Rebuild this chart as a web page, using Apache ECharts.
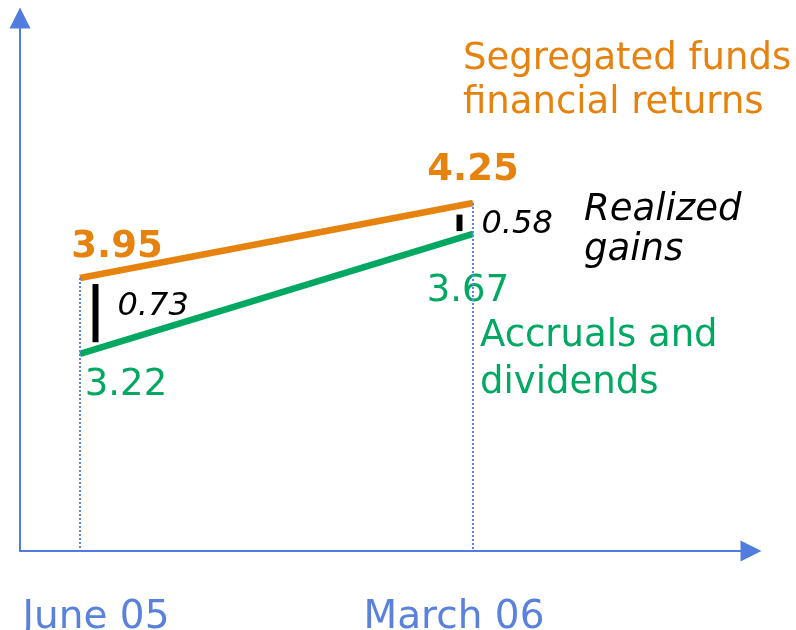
<!DOCTYPE html>
<html>
<head>
<meta charset="utf-8">
<script src="https://cdn.jsdelivr.net/npm/echarts@6/dist/echarts.min.js"></script>
<style>
  html, body { margin: 0; padding: 0; background: #fff; }
  #chart { width: 796px; height: 630px; }
</style>
</head>
<body>
<div id="chart"></div>
<script>
// data
const periods = ['June 05', 'March 06'];
const periodPos = [0, 1];
const segFundReturns = [3.95, 4.25];   // orange line
const accrualsDivs = [3.22, 3.67];     // green line
const realizedGains = [0.73, 0.58];    // gap between the two

const ORANGE = '#E6830F';
const GREEN = '#00A862';
const BLUE = '#4F7CDE';
const FONT = '"DejaVu Sans", Verdana, sans-serif';

// the slide is a sketch, so each line gets its own (hidden) scale
const ORANGE_MIN = 2.858, ORANGE_MAX = 4.99;
const GREEN_MIN = 2.481, GREEN_MAX = 4.48;

// label placement per point (style only)
const orangeLabelOffset = [[37, -5], [0, -7]];
const greenLabelOffset = [[46, 6], [-5, 32]];
const xLabelPad = [[0, 0, 0, 32], [0, 38, 0, 0]];
const gapBarDx = [15.5, -13.5];
const gapLabelDy = [-6, 2];

const chart = echarts.init(document.getElementById('chart'));

const option = {
  animation: false,
  backgroundColor: '#fff',
  grid: { left: 20, right: 45, top: 18, bottom: 79, containLabel: false, outerBoundsMode: 'none' },
  xAxis: {
    type: 'value',
    min: -0.1527,
    max: 1.7074,
    splitLine: { show: false },
    axisTick: { show: false },
    axisLine: {
      onZero: false,
      symbol: ['none', 'triangle'],
      symbolSize: [21, 21],
      lineStyle: { color: BLUE, width: 2 }
    },
    axisLabel: {
      customValues: periodPos,
      margin: 47,
      formatter: function (v) {
        const i = periodPos.indexOf(v);
        return i < 0 ? '' : '{p' + i + '|' + periods[i] + '}';
      },
      rich: {
        p0: { fontFamily: FONT, fontSize: 39, lineHeight: 40, color: '#5A82DC', padding: xLabelPad[0] },
        p1: { fontFamily: FONT, fontSize: 39, lineHeight: 40, color: '#5A82DC', padding: xLabelPad[1] }
      }
    }
  },
  yAxis: [
    {
      type: 'value',
      min: ORANGE_MIN,
      max: ORANGE_MAX,
      splitLine: { show: false },
      axisTick: { show: false },
      axisLabel: { show: false },
      axisLine: {
        show: true,
        onZero: false,
        symbol: ['none', 'triangle'],
        symbolSize: [21, 21],
        lineStyle: { color: BLUE, width: 2 }
      }
    },
    {
      type: 'value',
      show: false,
      min: GREEN_MIN,
      max: GREEN_MAX
    }
  ],
  series: [
    {
      name: 'Segregated funds financial returns',
      type: 'line',
      yAxisIndex: 0,
      symbol: 'circle',
      symbolSize: 1,
      itemStyle: { color: ORANGE },
      lineStyle: { color: ORANGE, width: 6.5 },
      z: 3,
      data: periodPos.map((x, i) => ({
        value: [x, segFundReturns[i]],
        label: {
          show: true,
          position: 'top',
          offset: orangeLabelOffset[i],
          formatter: segFundReturns[i].toFixed(2),
          color: ORANGE,
          fontFamily: FONT,
          fontWeight: 'bold',
          fontSize: 37,
          lineHeight: 40
        }
      })),
      markLine: {
        silent: true,
        symbol: 'none',
        label: { show: false },
        lineStyle: { color: '#5B86E5', width: 2, type: [2, 2] },
        data: periodPos.map((x, i) => [
          { coord: [x, segFundReturns[i]] },
          { coord: [x, ORANGE_MIN] }
        ])
      }
    },
    {
      name: 'Accruals and dividends',
      type: 'line',
      yAxisIndex: 1,
      symbol: 'circle',
      symbolSize: 1,
      itemStyle: { color: GREEN },
      lineStyle: { color: GREEN, width: 6.5 },
      z: 3,
      data: periodPos.map((x, i) => ({
        value: [x, accrualsDivs[i]],
        label: {
          show: true,
          position: 'bottom',
          offset: greenLabelOffset[i],
          formatter: accrualsDivs[i].toFixed(2),
          color: GREEN,
          fontFamily: FONT,
          fontSize: 37,
          lineHeight: 40
        }
      }))
    }
  ],
  graphic: [
    {
      type: 'text', left: 463, top: 37,
      style: { text: 'Segregated funds\nfinancial returns', fill: ORANGE, font: '37px ' + FONT, lineHeight: 44 }
    },
    {
      type: 'text', left: 584, top: 190,
      style: { text: 'Realized\ngains', fill: '#000', font: 'italic 37px ' + FONT, lineHeight: 40 }
    },
    {
      type: 'text', left: 480, top: 313,
      style: { text: 'Accruals and\ndividends', fill: GREEN, font: '37px ' + FONT, lineHeight: 47 }
    }
  ]
};

chart.setOption(option);

// black gap bars + realized gains labels, placed through the axes
const px = (x, y, yi) => chart.convertToPixel({ xAxisIndex: 0, yAxisIndex: yi }, [x, y]);
const oPts = periodPos.map((x, i) => px(x, segFundReturns[i], 0));
const gPts = periodPos.map((x, i) => px(x, accrualsDivs[i], 1));
const lineY = (pts, X) => pts[0][1] + (pts[1][1] - pts[0][1]) * (X - pts[0][0]) / (pts[1][0] - pts[0][0]);

const gapGraphics = [];
realizedGains.forEach((g, i) => {
  const bx = oPts[i][0] + gapBarDx[i];
  const y1 = lineY(oPts, bx) + 9;
  const y2 = lineY(gPts, bx) - 7;
  gapGraphics.push({
    type: 'line',
    shape: { x1: bx, y1: y1, x2: bx, y2: y2 },
    style: { stroke: '#000', lineWidth: 6 },
    z: 10
  });
  gapGraphics.push({
    type: 'text',
    x: bx + 22,
    y: (y1 + y2) / 2 + gapLabelDy[i],
    style: {
      text: g.toFixed(2),
      fill: '#000',
      font: 'italic 32px ' + FONT,
      textAlign: 'left',
      textVerticalAlign: 'middle'
    },
    z: 10
  });
});

chart.setOption({ graphic: option.graphic.concat(gapGraphics) });
</script>
</body>
</html>
